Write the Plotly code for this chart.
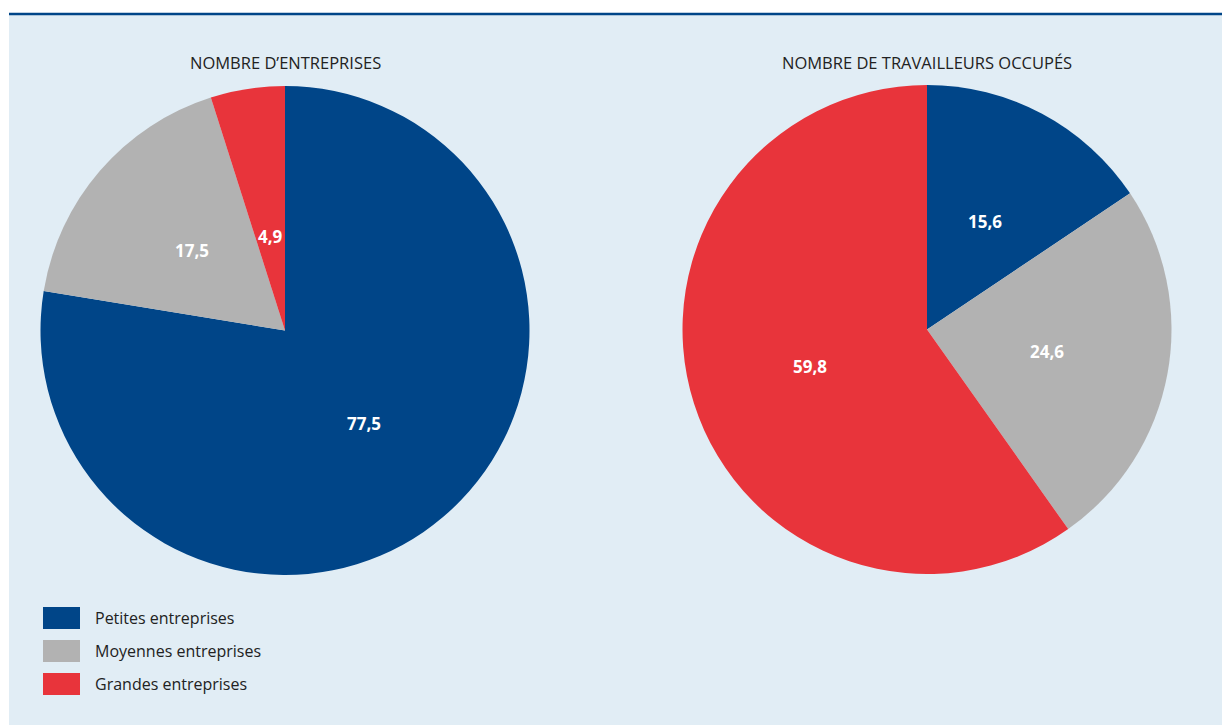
import math
import plotly.graph_objects as go

categories = ["Petites entreprises", "Moyennes entreprises", "Grandes entreprises"]
entreprises = [77.5, 17.5, 4.9]
travailleurs = [15.6, 24.6, 59.8]
titles = ["NOMBRE D\u2019ENTREPRISES", "NOMBRE DE TRAVAILLEURS OCCUP\u00c9S"]
colors = ["#004588", "#b2b2b2", "#e8343b"]

W, H = 1222, 725
BG = "#e1edf5"
FONT = "Open Sans"

fig = go.Figure()

# pie geometry in pixels (centre x, centre y from top, radius)
pies = [(285, 330.5, 244.5, entreprises), (927, 329.5, 244.5, travailleurs)]
for i, (cx, cy, r, vals) in enumerate(pies):
    fig.add_trace(go.Pie(
        labels=categories, values=vals, sort=False, direction="clockwise", rotation=0,
        marker=dict(colors=colors, line=dict(width=0)),
        textinfo="none",
        hoverinfo="label+value", showlegend=False,
        domain=dict(x=[(cx - r) / W, (cx + r) / W], y=[(H - cy - r) / H, (H - cy + r) / H]),
    ))
    # value labels placed along each slice's mid-angle
    total = sum(vals)
    cum = 0.0
    for v in vals:
        mid = (cum + v / 2) / total * 2 * math.pi
        cum += v
        frac = 0.5 if v / total > 0.1 else 0.39
        px = cx + frac * r * math.sin(mid)
        py = cy - frac * r * math.cos(mid)
        fig.add_annotation(text=f"{v:.1f}".replace(".", ","), x=px / W, y=1 - py / H,
                           xref="paper", yref="paper", showarrow=False,
                           xanchor="center", yanchor="middle",
                           font=dict(family=FONT, size=17, color="white", weight="bold"))
    fig.add_annotation(text=titles[i], x=cx / W, y=1 - 63 / H, xref="paper", yref="paper",
                       showarrow=False, xanchor="center", yanchor="middle",
                       font=dict(family=FONT, size=16.5, color="#222222"))

shapes = [
    dict(type="rect", xref="paper", yref="paper", x0=9 / W, x1=1, y0=0, y1=1 - 14 / H,
         fillcolor=BG, line=dict(width=0), layer="below"),
    dict(type="line", xref="paper", yref="paper", x0=9 / W, x1=1, y0=1 - 14 / H, y1=1 - 14 / H,
         line=dict(color="#004588", width=2.5)),
]
# custom legend
for k, (name, col) in enumerate(zip(categories, colors)):
    yc = 618 + 33 * k
    shapes.append(dict(type="rect", xref="paper", yref="paper",
                       x0=43 / W, x1=80 / W, y0=1 - (yc + 11) / H, y1=1 - (yc - 11) / H,
                       fillcolor=col, line=dict(width=0)))
    fig.add_annotation(text=name, x=93 / W, y=1 - yc / H, xref="paper", yref="paper",
                       showarrow=False, xanchor="left", yanchor="middle",
                       font=dict(family=FONT, size=16, color="#222222"))

fig.update_layout(width=W, height=H, margin=dict(l=0, r=0, t=0, b=0),
                  paper_bgcolor="white", plot_bgcolor="white",
                  shapes=shapes, showlegend=False)
fig.write_html("out.html")
